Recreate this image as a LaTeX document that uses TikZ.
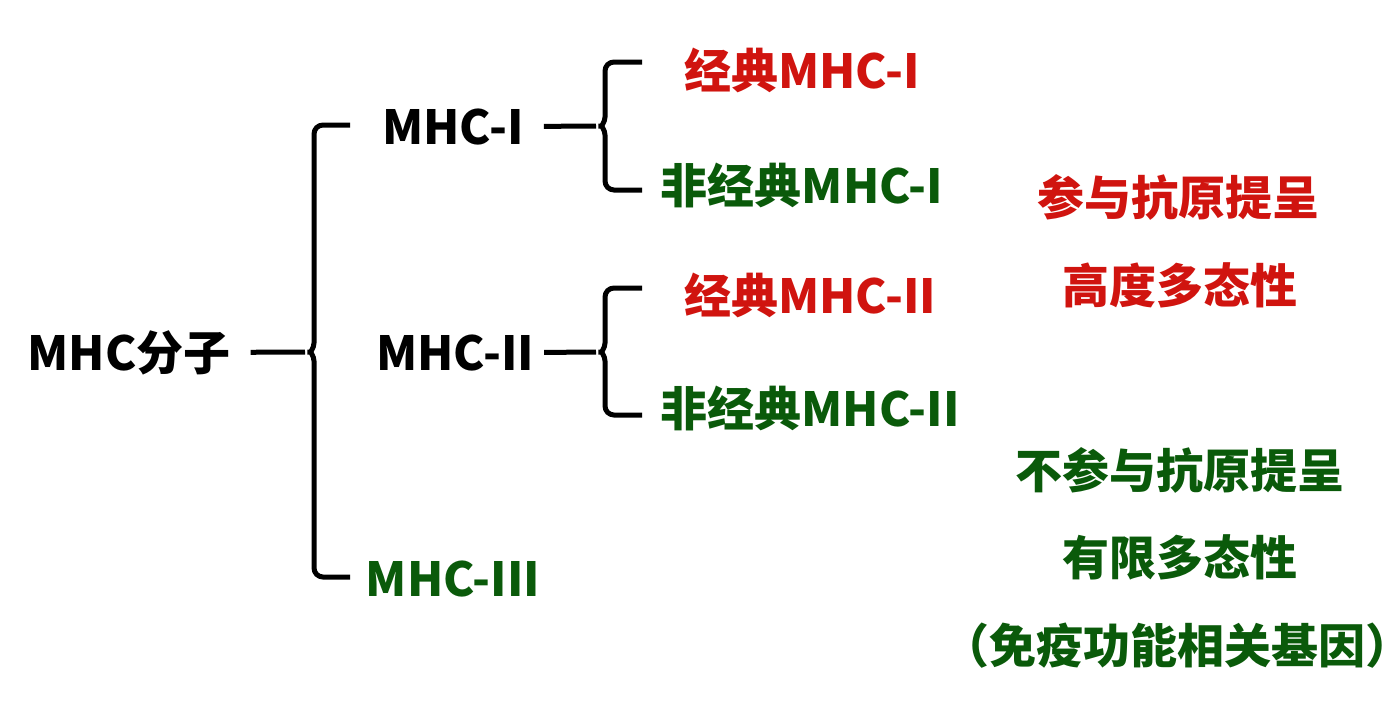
\documentclass[tikz,border=0pt]{standalone}
\usepackage{fontspec}
\setmainfont{Noto Sans CJK SC}
\usetikzlibrary{positioning}
\definecolor{mhcred}{RGB}{208,20,15}
\definecolor{mhcgreen}{RGB}{10,90,10}

\begin{document}
\begin{tikzpicture}[x=1pt,y=-1pt,
        term node/.style={anchor=base,inner sep=0pt,font=\fontsize{47}{56}\selectfont\bfseries},
        red node/.style={term node,text=mhcred}, green node/.style={term node,text=mhcgreen},
        brace line/.style={line width=5pt,rounded corners=9pt}]
        \useasboundingbox (0,0) rectangle (1393,704);
        \node[term node] (root) at (129,370) {MHC分子};
        \node[term node] (m1) at (453,144) {MHC-I};
        \node[term node] (m2) at (455,370) {MHC-II};
        \node[green node] (m3) at (453,596) {MHC-III};
        \node[red node] (c1) at (802,88) {经典MHC-I};
        \node[green node] (n1) at (802,203) {非经典MHC-I};
        \node[red node] (c2) at (810,313) {经典MHC-II};
        \node[green node] (n2) at (810,426) {非经典MHC-II};
        \node[red node] (r1) at (1178,215) {参与抗原提呈};
        \node[red node] (r2) at (1180,303) {高度多态性};
        \node[green node] (g1) at (1180,488) {不参与抗原提呈};
        \node[green node] (g2) at (1180,575) {有限多态性};
        \node[green node] (g3) at (1168,663) {（免疫功能相关基因）\kern-18pt};
        
        % big brace
        \coordinate (k0) at (302,352);
        \draw[brace line,shorten <=20pt] (root.east) -- ([xshift=3pt]k0);
        \draw[brace line] (350,125) -- (314,125) -- (314,334) .. controls (314,348) and (310,352) .. (k0)
            .. controls (310,352) and (314,356) .. (314,370) -- (314,577) -- (350,577);
        
        % small braces
        \coordinate (k1) at (593,126);
        \coordinate (k2) at (593,352);
        \draw[brace line,shorten <=20pt] (m1.east) -- ([xshift=3pt]k1);
        \draw[brace line,shorten <=10pt] (m2.east) -- ([xshift=3pt]k2);
        \draw[brace line] (642,62) -- (605,62) -- (605,108) .. controls (605,122) and (601,126) .. (k1)
            .. controls (601,126) and (605,130) .. (605,144) -- (605,190) -- (642,190);
        \draw[brace line] (642,288) -- (605,288) -- (605,334) .. controls (605,348) and (601,352) .. (k2)
            .. controls (601,352) and (605,356) .. (605,370) -- (605,415) -- (642,415);
    \end{tikzpicture}
\end{document}
